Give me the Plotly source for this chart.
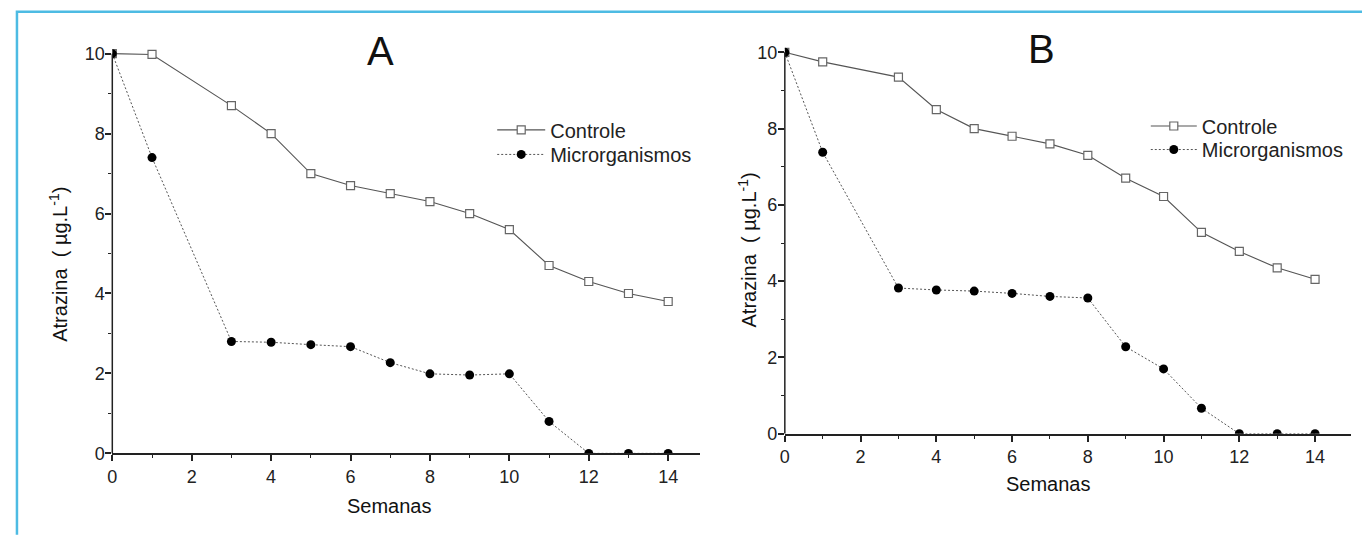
import plotly.graph_objects as go

# ---------------- data ----------------
weeks = [0, 1, 3, 4, 5, 6, 7, 8, 9, 10, 11, 12, 13, 14]

a_controle = [10.0, 9.98, 8.7, 8.0, 7.0, 6.7, 6.5, 6.3, 6.0, 5.6, 4.7, 4.3, 4.0, 3.8]
a_micro = [10.0, 7.4, 2.8, 2.78, 2.72, 2.67, 2.27, 1.99, 1.96, 1.99, 0.8, 0.0, 0.0, 0.0]

b_controle = [10.0, 9.75, 9.35, 8.5, 8.0, 7.8, 7.6, 7.3, 6.7, 6.22, 5.28, 4.78, 4.35, 4.05]
b_micro = [10.0, 7.38, 3.82, 3.77, 3.74, 3.68, 3.6, 3.56, 2.28, 1.7, 0.67, 0.0, 0.0, 0.0]

x_ticks = [0, 2, 4, 6, 8, 10, 12, 14]
y_ticks = [0, 2, 4, 6, 8, 10]

series_names = ["Controle", "Microrganismos"]
panel_titles = ["A", "B"]
x_title = "Semanas"
y_title = "Atrazina  ( µg.L<sup>-1</sup>)"

# ---------------- figure ----------------
W, H = 1362, 536
FONT = "Arial, Liberation Sans, sans-serif"
LINE_GRAY = "#555555"

def px_x(p):
    return p / W

def px_y(p):
    return 1 - p / H

fig = go.Figure()

def add_panel(ctrl, micro, xa, ya, leg_c, leg_m):
    fig.add_trace(go.Scatter(
        x=weeks, y=ctrl, name=series_names[0], mode="lines+markers",
        xaxis=xa, yaxis=ya, legend=leg_c,
        line=dict(color=LINE_GRAY, width=1.1),
        marker=dict(symbol="square", size=8, color="white",
                    line=dict(color="#666666", width=1.2)),
    ))
    fig.add_trace(go.Scatter(
        x=weeks, y=micro, name=series_names[1], mode="lines+markers",
        xaxis=xa, yaxis=ya, legend=leg_m,
        line=dict(color=LINE_GRAY, width=1, dash="2px,2px"),
        marker=dict(symbol="circle", size=9, color="black",
                    line=dict(color="black", width=0)),
    ))

add_panel(a_controle, a_micro, "x", "y", "legend", "legend2")
add_panel(b_controle, b_micro, "x2", "y2", "legend3", "legend4")

axis_common = dict(
    showgrid=False, zeroline=False,
    ticks="outside", ticklen=6, tickwidth=1.5, tickcolor="#222222",
    tickfont=dict(family=FONT, size=18, color="#222222"),
    minor=dict(ticks="outside", ticklen=3, tickwidth=1.3, tickcolor="#222222", dtick=1),
)

# panel geometry (pixels of the 1362x536 reference)
ax_l, ax_r, ay_b, ay_t = 107.7, 697.5, 462.0, 44.5
bx_l, bx_r, by_b, by_t = 782.7, 1351.0, 442.0, 43.6

def legend_at(xp, yp, itemwidth):
    return dict(x=px_x(xp), y=px_y(yp), xanchor="left", yanchor="top",
                bgcolor="rgba(0,0,0,0)", borderwidth=0, itemwidth=itemwidth,
                font=dict(family=FONT, size=20, color="#222222"))

fig.update_layout(
    autosize=True,
    margin=dict(l=0, r=0, t=0, b=0, pad=0),
    paper_bgcolor="white", plot_bgcolor="white",
    font=dict(family=FONT, color="#222222"),
    xaxis=dict(domain=[px_x(ax_l), px_x(ax_r)], range=[0, 14.8], anchor="y",
               tickvals=x_ticks, showline=True, linecolor="#222222", linewidth=1.5,
               **axis_common),
    yaxis=dict(domain=[px_y(ay_b), px_y(ay_t)], range=[0, 10.25], anchor="x",
               tickvals=y_ticks, showline=False, ticklabelstandoff=-3, **axis_common),
    xaxis2=dict(domain=[px_x(bx_l), px_x(bx_r)], range=[0, 14.95], anchor="y2",
                tickvals=x_ticks, showline=True, linecolor="#222222", linewidth=1.5,
                **axis_common),
    yaxis2=dict(domain=[px_y(by_b), px_y(by_t)], range=[0, 10.25], anchor="x2",
                tickvals=y_ticks, showline=False, ticklabelstandoff=-3, **axis_common),
    legend=legend_at(489, 112.5, 48),
    legend2=legend_at(489, 137.5, 48),
    legend3=legend_at(1145, 108.5, 46),
    legend4=legend_at(1145, 132.5, 46),
    showlegend=True,
)

# y-axis lines drawn only up to 10
for xr, yr in (("x domain", "y"), ("x2 domain", "y2")):
    fig.add_shape(type="line", xref=xr, yref=yr, x0=0, x1=0, y0=0, y1=10,
                  line=dict(color="#222222", width=1.5), layer="above")

# cyan frame (top and left edges)
fig.add_shape(type="path", xref="paper", yref="paper",
              path=f"M {px_x(12)},{px_y(545)} L {px_x(12)},{px_y(12)} L {px_x(1370)},{px_y(12)}",
              line=dict(color="#4DBBE3", width=2.5))

annotations = [
    dict(text=panel_titles[0], x=px_x(377), y=px_y(52), size=40, angle=0),
    dict(text=panel_titles[1], x=px_x(1040), y=px_y(50), size=40, angle=0),
    dict(text=x_title, x=px_x(386), y=px_y(516), size=20, angle=0),
    dict(text=x_title, x=px_x(1047), y=px_y(493), size=20, angle=0),
    dict(text=y_title, x=px_x(54), y=px_y(269), size=20, angle=-90),
    dict(text=y_title, x=px_x(745), y=px_y(255), size=20, angle=-90),
]
for a in annotations:
    fig.add_annotation(xref="paper", yref="paper", showarrow=False,
                       xanchor="center", yanchor="middle",
                       text=a["text"], x=a["x"], y=a["y"], textangle=a["angle"],
                       font=dict(family=FONT, color="#111111", size=a["size"]))

fig.write_html(
    "out.html",
    config={"displayModeBar": False, "responsive": True},
    default_width="100vw",
    default_height="100vh",
    post_script=(
        "document.documentElement.style.margin='0';"
        "document.body.style.margin='0';"
        "document.body.style.overflow='hidden';"
        "Plotly.Plots.resize(document.getElementById('{plot_id}'));"
    ),
)
